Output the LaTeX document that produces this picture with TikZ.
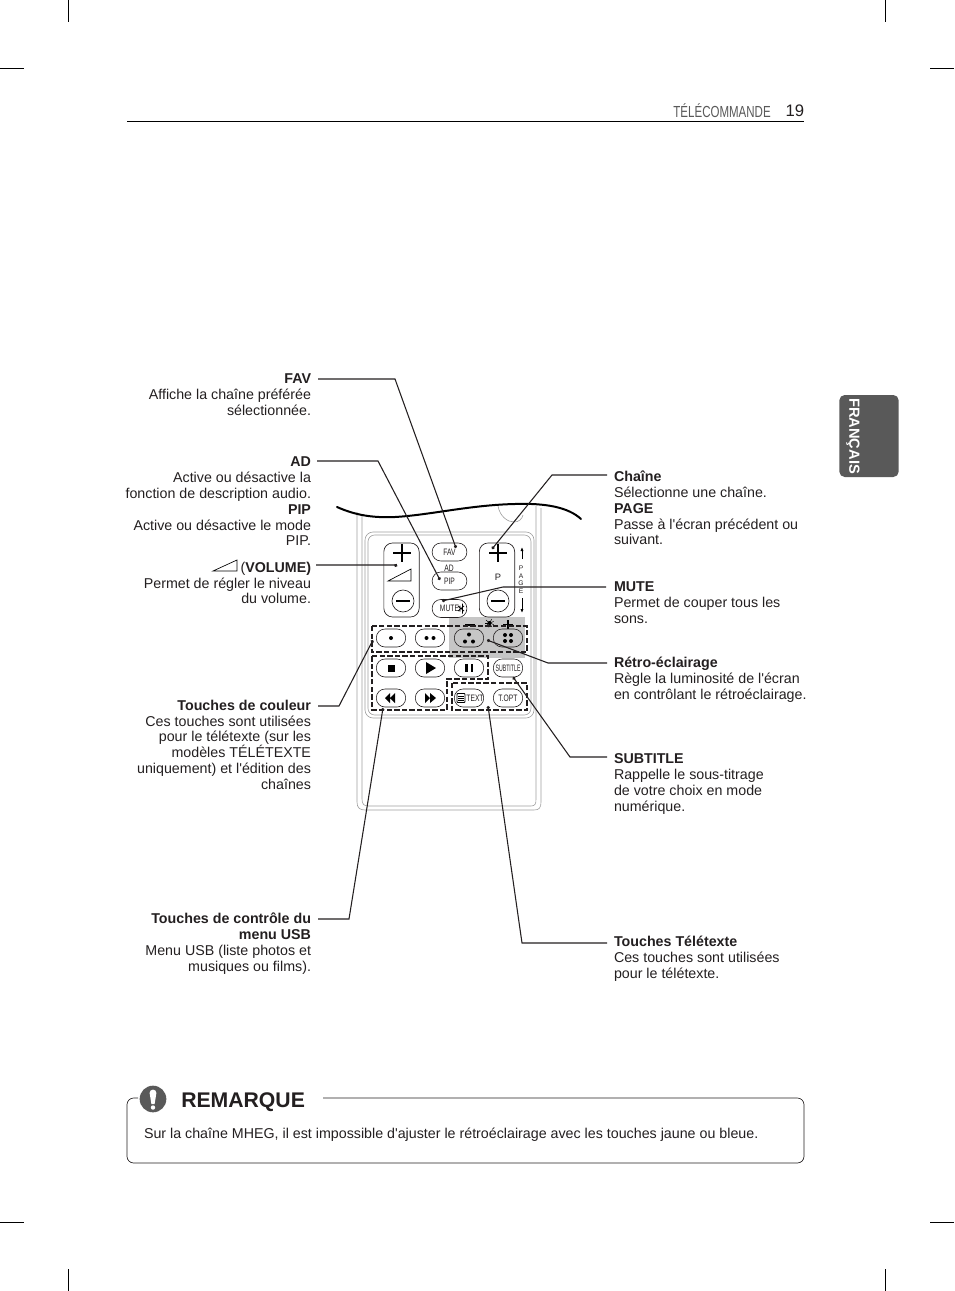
\documentclass[tikz,border=0pt]{standalone}
\usepackage{fontspec}
\usetikzlibrary{arrows.meta}
\newfontfamily\bodyfont{Liberation Sans}
\newfontfamily\narrowfont[FakeStretch=0.72]{Liberation Sans}
\newfontfamily\tightfont[FakeStretch=0.56]{Liberation Sans}
\definecolor{tabgray}{HTML}{595959}
\definecolor{inkgray}{HTML}{231F20}
\tikzset{
  txtbase/.style={inner sep=0pt, outer sep=0pt, text=inkgray, font=\bodyfont\fontsize{10.69}{11.85}\selectfont, execute at begin node=\strut},
  lbl/.style={txtbase, anchor=north east, align=right},
  rbl/.style={txtbase, anchor=north west, align=left},
  lead/.style={draw=inkgray, line width=0.8pt, -{Circle[length=2.4pt]}},
  btn/.style={draw=inkgray, line width=0.45pt, rounded corners=6.5pt, minimum width=22pt, minimum height=13.5pt, inner sep=0pt, text=inkgray, font=\narrowfont\fontsize{7}{8}\selectfont},
  topbtn/.style={btn, minimum width=26pt},
  rocker/.style={draw=inkgray, line width=0.5pt, rounded corners=6.5pt, minimum width=26.5pt, minimum height=55.5pt, inner sep=0pt},
  dashbox/.style={draw=inkgray, line width=0.8pt, dash pattern=on 4pt off 1.7pt},
  body/.style={draw=gray!75, line width=0.45pt},
  crop/.style={draw=black, line width=0.5pt}
}
\begin{document}
\begin{tikzpicture}[x=0.75pt, y=-0.75pt]
  \useasboundingbox (0,0) rectangle (954,1291);
  % Crop marks
  \foreach \x in {68,885} {
    \draw[crop] (\x,0) -- (\x,22);
    \draw[crop] (\x,1269) -- (\x,1291);
  }
  \foreach \y in {68,1222} {
    \draw[crop] (0,\y) -- (24,\y);
    \draw[crop] (930,\y) -- (954,\y);
  }
  % Header
  \node[inner sep=0pt, text=tabgray, font=\narrowfont\fontsize{12}{14}\selectfont, anchor=east] (hdr) at (771,111) {TÉLÉCOMMANDE};
  \node[inner sep=0pt, text=inkgray, font=\bodyfont\fontsize{12.5}{14}\selectfont, anchor=east] (pageno) at (804.5,110.5) {19};
  \draw[draw=black, line width=0.6pt] (127,121.5) -- (804,121.5);
  % Language tab
  \node[fill=tabgray, rounded corners=4pt, minimum width=44.5pt, minimum height=61.5pt, inner sep=0pt] (tab) at (869,436) {};
  \node[rotate=-90, inner sep=0pt, text=white, font=\bodyfont\bfseries\fontsize{11}{12}\selectfont] (tabtxt) at (853,436) {FRANÇAIS};
  % Remote body
  \fill[gray!45] (449,617) rectangle (525,658);
  \draw[body] (357,512) -- (357,802) .. controls (357,808) and (360,810) .. (365,810) -- (534,810) .. controls (539,810) and (541,808) .. (541,802) -- (541,508);
  \draw[body] (362,514) -- (362,799) .. controls (362,804) and (364,806) .. (368,806) -- (531,806) .. controls (535,806) and (536,804) .. (536,799) -- (536,506);
  \draw[body, rounded corners=6pt] (365,532) rectangle (534,718);
  \draw[body, rounded corners=5pt] (368,535) rectangle (531,715);
  \draw[body] (498,506) .. controls (500,517) and (508,522) .. (514,522) .. controls (519,522) and (522,519) .. (523,515);
  \draw[line width=1.5pt, line cap=round, draw=black] (337,507) .. controls (355,515) and (372,518) .. (395,517) .. controls (430,515) and (470,505) .. (515,504) .. controls (545,503) and (568,507) .. (581,519);
  % Rockers
  \node[rocker] (volrock) at (401.5,580) {};
  \node[rocker] (chrock) at (497,580) {};
  \foreach \x in {402,498} {
    \draw[line width=1.2pt] (\x-9,553) -- (\x+9,553);
    \draw[line width=1.2pt] (\x,544) -- (\x,562);
  }
  \foreach \x/\n in {403/volm,498/chm} {
    \node[draw=inkgray, line width=0.5pt, circle, minimum size=16.5pt, inner sep=0pt] (\n) at (\x,601) {};
    \draw[line width=1.2pt] (\x-7,601) -- (\x+7,601);
  }
  \draw[line width=0.5pt] (388,581) -- (411,569) -- (411,581) -- cycle;
  \node[inner sep=0pt, font=\bodyfont\fontsize{7}{8}\selectfont, text=inkgray] (ptxt) at (498,577) {P};
  % PAGE
  \foreach \l/\y in {P/568,A/576,G/583,E/591} {
    \node[inner sep=0pt, font=\bodyfont\fontsize{5}{6}\selectfont, text=inkgray] (page\l) at (521,\y) {\l};
  }
  \draw[line width=0.7pt, -{Latex[length=3pt, width=2.4pt]}] (522,559) -- (522,547);
  \draw[line width=0.7pt, -{Latex[length=3pt, width=2.4pt]}] (522,598) -- (522,613);
  % Middle buttons
  \node[topbtn] (favbtn) at (449.5,552) {FAV};
  \node[inner sep=0pt, font=\narrowfont\fontsize{7}{8}\selectfont, text=inkgray] (adtxt) at (449,568) {AD};
  \node[topbtn] (pipbtn) at (449.5,581) {PIP};
  \node[topbtn] (mutebtn) at (449.5,608.5) {MUTE\hspace{7pt}};
  \draw[line width=0.6pt] (460,605.5) -- (460,611.5) (462.5,603.5) -- (462.5,613.5) (458,606) -- (464,611) (458,611) -- (464,606);
  % Backlight
  \draw[line width=0.9pt] (465,625) -- (475,625);
  \draw[line width=0.9pt] (503,624.5) -- (513,624.5) (508,620) -- (508,629);
  \fill (489.5,623) circle (2);
  \foreach \a in {-60,-20,...,220} {
    \draw[line width=0.35pt] (489.5,623) -- ++(\a:4.5);
  }
  % Button rows
  \foreach \n/\x/\y/\t in {b11/391/638/, b12/430/638/, b13/469/638/, b14/508/638/,
      b21/391/668/, b22/430/668/, b23/469/668/, subbtn/508/668/\tightfont SUBTITLE,
      b31/391/698/, b32/430/698/, txtbtn/469/698/\hspace{9pt}TEXT, optbtn/508/698/T.OPT} {
    \node[btn] (\n) at (\x,\y) {\t};
  }
  % Coloured dots
  \foreach \x/\y in {391/638,426.5/638,433.5/638,469/634.5,465/641.5,473/641.5,505/635,511/635,505/641,511/641} {
    \fill (\x,\y) circle (2);
  }
  % Media glyphs
  \fill (387.5,664.5) rectangle (394.5,671.5);
  \fill (426,662) -- (436,668) -- (426,674) -- cycle;
  \fill (465,664) rectangle (467.5,672);
  \fill (470.5,664) rectangle (473,672);
  \fill (395,693) -- (395,703) -- (390,698) -- (390,703) -- (385,698) -- (390,693) -- (390,698) -- cycle;
  \fill (425,693) -- (425,703) -- (430,698) -- (430,703) -- (436,698) -- (430,693) -- (430,698) -- cycle;
  \draw[line width=0.6pt, rounded corners=0.6pt] (457,693.5) rectangle (465,702.5);
  \draw[line width=0.6pt] (458,696) -- (464,696) (458,698) -- (464,698) (458,700) -- (464,700);
  % Dashed groups
  \draw[dashbox] (372,626) rectangle (527,652);
  \draw[dashbox] (372,656) -- (488,656) -- (488,679) -- (447,679) -- (447,710) -- (372,710) -- cycle;
  \draw[dashbox] (452,683) rectangle (527,710);
  % Left labels
  \node[lbl] (favlbl) at (311,374) {\textbf{FAV}\\Affiche la chaîne préférée\\sélectionnée.};
  \node[lbl] (adlbl) at (311,457) {\textbf{AD}\\Active ou désactive la\\fonction de description audio.\\\textbf{PIP}\\Active ou désactive le mode\\PIP.};
  \node[lbl] (vollbl) at (311,562) {(\textbf{VOLUME)}\\Permet de régler le niveau\\du volume.};
  \node[lbl] (collbl) at (311,700) {\textbf{Touches de couleur}\\Ces touches sont utilisées\\pour le télétexte (sur les\\modèles TÉLÉTEXTE\\uniquement) et l'édition des\\chaînes};
  \node[lbl] (usblbl) at (311,913) {\textbf{Touches de contrôle du}\\\textbf{menu USB}\\Menu USB (liste photos et\\musiques ou films).};
  \draw[line width=0.5pt] (213,571) -- (237,560) -- (237,571) -- cycle;
  % Right labels
  \node[rbl] (chlbl) at (614,471) {\textbf{Chaîne}\\Sélectionne une chaîne.\\\textbf{PAGE}\\Passe à l'écran précédent ou\\suivant.};
  \node[rbl] (mutelbl) at (614,582) {\textbf{MUTE}\\Permet de couper tous les\\sons.};
  \node[rbl] (retrolbl) at (614,657) {\textbf{Rétro-éclairage}\\Règle la luminosité de l'écran\\en contrôlant le rétroéclairage.};
  \node[rbl] (sublbl) at (614,754) {\textbf{SUBTITLE}\\Rappelle le sous-titrage\\de votre choix en mode\\numérique.};
  \node[rbl] (ttlbl) at (614,936) {\textbf{Touches Télétexte}\\Ces touches sont utilisées\\pour le télétexte.};
  % Leaders
  \draw[lead] ([shift={(7,5)}]favlbl.north east) -- ++(77,0) -- ([shift={(6.5,-4)}]favbtn.center);
  \draw[lead] ([shift={(6,4)}]adlbl.north east) -- ++(61,0) -- ([shift={(-9.5,-1)}]pipbtn.center);
  \draw[lead] ([shift={(5,3)}]vollbl.north east) -- ++(80,0) -- ([shift={(-5,-16)}]volrock.center);
  \draw[lead] ([shift={(7,6)}]collbl.north east) -- ++(21,0) -- ([shift={(-18,2)}]b11.center);
  \draw[lead] ([shift={(7,6)}]usblbl.north east) -- ++(31,0) -- ([shift={(-8,10)}]b31.center);
  \draw[lead] ([shift={(-7,4)}]chlbl.north west) -- ++(-55,0) -- ([shift={(-5,-31)}]chrock.center);
  \draw[lead] ([shift={(-8,5)}]mutelbl.north west) -- ++(-103,0) -- ([shift={(-7.5,-7.5)}]mutebtn.center);
  \draw[lead] ([shift={(-7,6)}]retrolbl.north west) -- ++(-59,0) -- ([shift={(18,2)}]b13.center);
  \draw[lead] ([shift={(-7,3)}]sublbl.north west) -- ++(-37,0) -- ([shift={(5,9)}]subbtn.center);
  \draw[lead] ([shift={(-7,7)}]ttlbl.north west) -- ++(-85,0) -- ([shift={(19,8)}]txtbtn.center);
  % Note box
  \draw[draw=inkgray, line width=0.5pt, rounded corners=5pt] (138,1098) -- (127,1098) -- (127,1163) -- (804,1163) -- (804,1098) -- (323,1098);
  \node[circle, fill=tabgray, minimum size=20pt, inner sep=0pt] (warn) at (153,1099) {};
  \fill[white] (149.6,1093) .. controls (149.6,1088.5) and (156.4,1088.5) .. (156.4,1093) -- (154.6,1104) -- (151.4,1104) -- cycle;
  \fill[white] (153,1107.5) circle (2.2);
  \node[inner sep=0pt, anchor=west, text=inkgray, font=\bodyfont\bfseries\fontsize{15.9}{18}\selectfont] (remark) at (181,1102.5) {REMARQUE};
  \node[rbl, anchor=west] (notetxt) at (144,1135) {Sur la chaîne MHEG, il est impossible d'ajuster le rétroéclairage avec les touches jaune ou bleue.};
\end{tikzpicture}
\end{document}
